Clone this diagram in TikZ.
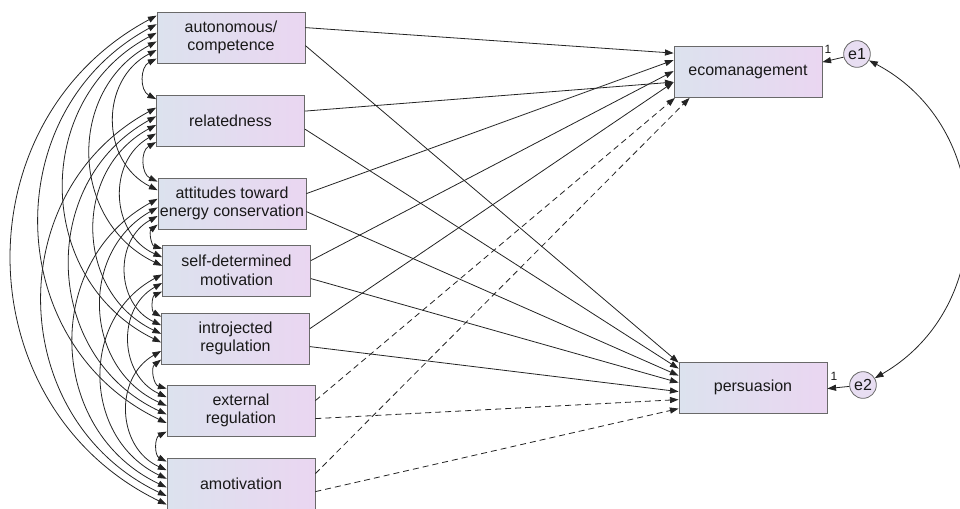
\documentclass[tikz,border=0pt]{standalone}
\usepackage{fontspec}
\setmainfont{Liberation Sans}
\usetikzlibrary{arrows.meta,calc}
\definecolor{boxL}{RGB}{220,226,238}
\definecolor{boxR}{RGB}{234,214,241}
\definecolor{circF}{RGB}{232,222,242}
\definecolor{edgeC}{RGB}{105,105,105}
\definecolor{lineC}{RGB}{35,35,35}
\definecolor{txtC}{RGB}{25,25,25}
\begin{document}
\begin{tikzpicture}[x=0.75pt,y=-0.75pt,
  varbox/.style={draw=edgeC, line width=0.6pt, left color=boxL, right color=boxR,
    minimum width=111pt, minimum height=38.25pt, inner sep=0pt, align=center,
    text=txtC, font=\fontsize{12}{14}\selectfont},
  errc/.style={circle, draw=edgeC, line width=0.6pt, fill=circF, minimum size=20pt,
    inner sep=0pt, text=txtC, font=\fontsize{12}{14}\selectfont},
  tip/.tip={Triangle[length=6.5pt,width=4.6pt]},
  reg/.style={draw=lineC, line width=0.6pt, -tip},
  dreg/.style={reg, dash pattern=on 4.5pt off 3pt},
  cov/.style={draw=lineC, line width=0.6pt, tip-tip},
  onelab/.style={text=txtC, inner sep=0pt, font=\fontsize{9}{10}\selectfont}]
\useasboundingbox (0,0) rectangle (960,508);

\node[varbox] (b0) at (231,37.5) {autonomous/\\competence};
\node[varbox] (b1) at (230.5,121) {relatedness};
\node[varbox] (b2) at (232,203.5) {attitudes toward\\energy conservation};
\node[varbox] (b3) at (236.5,270.5) {self-determined\\motivation};
\node[varbox] (b4) at (235.5,338.5) {introjected\\regulation};
\node[varbox] (b5) at (241,410.5) {external\\regulation};
\node[varbox] (b6) at (241,483.5) {amotivation};
\node[varbox] (eco) at (748,72) {ecomanagement};
\node[varbox] (pers) at (753,387.5) {persuasion};
\node[errc] (e1) at (857,54) {e1};
\node[errc] (e2) at (863,385) {e2};
\node[onelab] (one1) at (828,49) {1};
\node[onelab] (one2) at (834,376) {1};

% covariances among exogenous variables
\foreach \i in {0,...,5}{
  \pgfmathtruncatemacro\start{\i+1}
  \foreach \j in {\start,...,6}{
    \pgfmathsetmacro\oi{3+6.45*(\i+6-\j)}
    \pgfmathsetmacro\oj{3+6.45*(\j-1-\i)}
    \draw[cov] ([yshift=-\oi pt]b\i.north west) to[bend right=63, looseness=1.17] ([yshift=-\oj pt]b\j.north west);
  }
}

% paths to ecomanagement
\draw[reg] ([yshift=-12pt]b0.north east) -- ([yshift=-5.25pt]eco.north west);
\draw[reg] ([yshift=-12pt]b1.north east) -- ([yshift=-27pt]eco.north west);
\draw[reg] ([yshift=-12pt]b2.north east) -- ([yshift=-10.5pt]eco.north west);
\draw[reg] ([yshift=-12pt]b3.north east) -- ([yshift=-18.75pt]eco.north west);
\draw[reg] ([yshift=-12pt]b4.north east) -- ([yshift=-27pt]eco.north west);
\draw[dreg] ([yshift=-12pt]b5.north east) -- ([xshift=1pt]eco.south west);
\draw[dreg] ([yshift=-12pt]b6.north east) -- ([xshift=12pt]eco.south west);

% paths to persuasion
\draw[reg] ([yshift=-25.5pt]b0.north east) -- ([yshift=-0.75pt]pers.north west);
\draw[reg] ([yshift=-25.5pt]b1.north east) -- ([yshift=-5.25pt]pers.north west);
\draw[reg] ([yshift=-25.5pt]b2.north east) -- ([yshift=-10.5pt]pers.north west);
\draw[reg] ([yshift=-25.5pt]b3.north east) -- ([yshift=-15.75pt]pers.north west);
\draw[reg] ([yshift=-25.5pt]b4.north east) -- ([yshift=-22.5pt]pers.north west);
\draw[dreg] ([yshift=-25.5pt]b5.north east) -- ([yshift=-28.5pt]pers.north west);
\draw[dreg] ([yshift=-25.5pt]b6.north east) -- ([yshift=-35.25pt]pers.north west);

% error terms
\draw[reg] (e1) -- ([yshift=-12pt]eco.north east);
\draw[reg] (e2) -- ([yshift=-20.25pt]pers.north east);
\draw[cov] (e1) to[bend left=61, looseness=1.15] (e2);
\end{tikzpicture}
\end{document}
